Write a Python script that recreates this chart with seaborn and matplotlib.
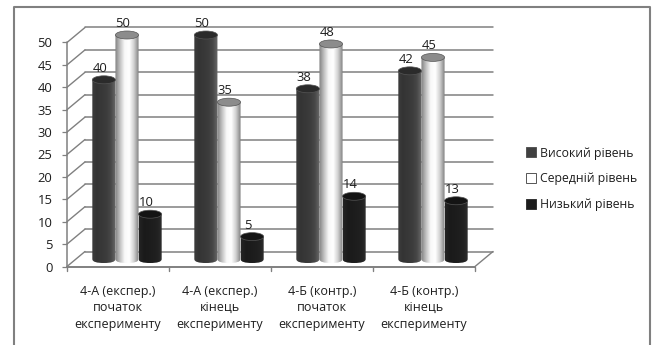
import numpy as np
import pandas as pd
import matplotlib
matplotlib.use("Agg")
import matplotlib.pyplot as plt
import seaborn as sns
from matplotlib.colors import LinearSegmentedColormap
from matplotlib.lines import Line2D
from matplotlib.patches import Ellipse, Patch, PathPatch
from matplotlib.path import Path
from matplotlib.transforms import ScaledTranslation

# Survey results by class and stage of the experiment
categories = [
    "4-А (експер.)\nпочаток\nексперименту",
    "4-А (експер.)\nкінець\nексперименту",
    "4-Б (контр.)\nпочаток\nексперименту",
    "4-Б (контр.)\nкінець\nексперименту",
]
high_level = [40, 50, 38, 42]
mid_level = [50, 35, 48, 45]
low_level = [10, 5, 14, 13]
series_names = ["Високий рівень", "Середній рівень", "Низький рівень"]
y_ticks = list(range(0, 55, 5))

W, H, DPI = 654, 345, 100
FONT = "Open Sans"
TEXT = "#1e1e1e"
LINE = "#808080"

sns.set_theme(style="white")
plt.rcParams["font.family"] = [FONT, "DejaVu Sans"]

df = pd.DataFrame({
    "category": categories * 3,
    "level": np.repeat(series_names, len(categories)),
    "value": high_level + mid_level + low_level,
})

fig = plt.figure(figsize=(W / DPI, H / DPI), dpi=DPI, facecolor="white")
# The axes is the middle plane of the pseudo-3D box (pixel box: x 76-484, y 35-259)
ax = fig.add_axes([76 / W, 1 - 259 / H, 408 / W, 224 / H])
sns.barplot(data=df, x="category", y="value", hue="level", hue_order=series_names,
            order=categories, width=0.68, gap=0, legend=False, ax=ax)
ax.set_xlim(-0.5, 3.5)
ax.set_ylim(0, 50)
ax.set_xlabel("")
ax.set_ylabel("")
ax.set_facecolor("none")
for spine in ax.spines.values():
    spine.set_visible(False)


def shifted(dx, dy):
    """Data transform moved by a pixel offset (dy counts upwards)."""
    return ax.transData + ScaledTranslation(dx / DPI, dy / DPI, fig.dpi_scale_trans)


back = shifted(9, 7.5)
front = shifted(-9, -7.5)
x0, x1 = ax.get_xlim()

# Back-wall gridlines and the depth lines running to the front axis
for tick in y_ticks:
    ax.plot([x0, x1], [tick, tick], color=LINE, lw=1.1, transform=back, clip_on=False, zorder=1)
    p_front = front.transform((x0, tick))
    p_back = back.transform((x0, tick))
    fig.add_artist(Line2D([p_front[0] / W, p_back[0] / W], [p_front[1] / H, p_back[1] / H],
                          color=LINE, lw=1.0, zorder=1))

# Floor edge, front axes
ax.plot([x0, x1], [0, 0], color=LINE, lw=1.4, transform=front, clip_on=False, zorder=1)
ax.plot([x0, x0], [0, 50], color=LINE, lw=1.1, transform=front, clip_on=False, zorder=1)
pf, pb = front.transform((x1, 0)), back.transform((x1, 0))
fig.add_artist(Line2D([pf[0] / W, pb[0] / W], [pf[1] / H, pb[1] / H], color=LINE, lw=1.0))

# Tick labels and tick marks sit on the front plane
ax.set_yticks(y_ticks)
ax.set_yticklabels([str(t) for t in y_ticks])
ax.tick_params(axis="y", length=3.5, width=0.9, color=LINE, pad=7, labelsize=9.4,
               labelcolor=TEXT, left=True)
ax.tick_params(axis="x", length=0, pad=13, labelsize=9, labelcolor=TEXT)
front_offset = ScaledTranslation(-9 / DPI, -7.5 / DPI, fig.dpi_scale_trans)
for t in ax.yaxis.get_major_ticks():
    t.label1.set_transform(t.label1.get_transform() + front_offset)
    t.tick1line.set_transform(t.tick1line.get_transform() + front_offset)
for t in ax.xaxis.get_major_ticks():
    t.label1.set_transform(t.label1.get_transform() + front_offset)
    t.label1.set_linespacing(1.36)
    t.label1.set_family(FONT)
for edge in np.arange(x0, x1 + 0.5):
    a = front.transform((edge, 0))
    fig.add_artist(Line2D([a[0] / W, a[0] / W], [a[1] / H, (a[1] - 4) / H], color=LINE, lw=1.0))

# Cylinder shading per series: gradient stops, cap colour
styles = [
    (["#3c3c3c", "#343434", "#383838", "#3c3c3c", "#484848", "#6a6a6a"], "#2b2b2b"),
    (["#808080", "#c0c0c0", "#f8f8f8", "#ffffff", "#d0d0d0", "#808080"], "#8c8c8c"),
    (["#242424", "#1a1a1a", "#1c1c1c", "#1e1e1e", "#222222", "#323232"], "#141414"),
]
ramp = np.linspace(0, 1, 64).reshape(1, -1)
cap_h = 8 / (224 / 50)  # cap height in data units

for container, (stops, cap) in zip(ax.containers, styles):
    cmap = LinearSegmentedColormap.from_list("cyl", stops)
    for bar in container:
        left, width, val = bar.get_x(), bar.get_width(), bar.get_height()
        bar.set_visible(False)
        cx = left + width / 2
        # Body outline: straight sides with a rounded bottom
        k = cap_h / 2
        verts = [(left, val), (left, 0), (left, -k * 0.75), (cx - width * 0.3, -k), (cx, -k),
                 (cx + width * 0.3, -k), (left + width, -k * 0.75), (left + width, 0),
                 (left + width, val), (left, val)]
        codes = [Path.MOVETO, Path.LINETO, Path.CURVE4, Path.CURVE4, Path.CURVE4,
                 Path.CURVE4, Path.CURVE4, Path.CURVE4, Path.LINETO, Path.CLOSEPOLY]
        clip = PathPatch(Path(verts, codes), transform=ax.transData, fc="none", ec="none")
        ax.add_patch(clip)
        im = ax.imshow(ramp, cmap=cmap, aspect="auto", zorder=3,
                       extent=(left, left + width, -k, val + k))
        im.set_clip_path(clip)
        # Let the rounded base extend below the axes box
        im.set_clip_box(fig.bbox)
        ax.add_patch(Ellipse((cx, val), width, cap_h, fc=cap, ec="#555555", lw=0.5,
                             zorder=4, clip_on=False))
        ax.annotate(f"{val:g}", (cx, val), xytext=(-4 * 72 / DPI, 11.5 * 72 / DPI),
                    textcoords="offset points", ha="center", va="center",
                    fontsize=9.4, color=TEXT, zorder=5, annotation_clip=False)

ax.set_xlim(x0, x1)
ax.set_ylim(0, 50)

# Legend to the right of the plot
handles = [Patch(fc=c, ec=e, lw=0.7) for c, e in
           [("#404040", "#555555"), ("#ffffff", "#555555"), ("#1c1c1c", "#333333")]]
fig.legend(handles, series_names, loc="center left", bbox_to_anchor=(526 / W, 1 - 179 / H),
           frameon=False, fontsize=8.8, labelcolor=TEXT, handlelength=0.85, handleheight=0.85,
           handletextpad=0.3, labelspacing=1.06, borderpad=0, borderaxespad=0)

# Chart-area frame: left, top and right edges only
frame_x = [14 / W, 14 / W, 650 / W, 650 / W]
frame_y = [0, 1 - 7 / H, 1 - 7 / H, 0]
fig.add_artist(Line2D(frame_x, frame_y, color="#808080", lw=1.5))

fig.savefig("out.png", dpi=DPI, facecolor="white")
